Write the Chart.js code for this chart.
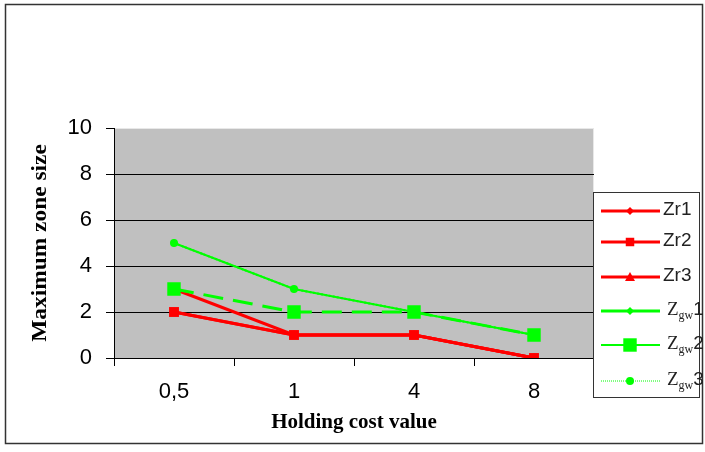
<!DOCTYPE html>
<html><head><meta charset="utf-8">
<script src="https://cdn.jsdelivr.net/npm/chart.js@4"></script>
<style>html,body{margin:0;padding:0;background:#fff}#wrap{width:705px;height:452px;position:relative}</style>
</head><body><div id="wrap"><canvas id="c" width="705" height="452"></canvas></div>
<script>
const categories = ['0,5', '1', '4', '8'];
const zr1 = [2, 1, 1, 0];
const zr2 = [2, 1, 1, 0];
const zr3 = [3, 1, 1, 0];
const zgw1 = [5, 3, 2, 1];
const zgw2 = [3, 2, 2, 1];
const zgw3 = [5, 3, 2, 1];
const yMin = 0, yMax = 10, yStep = 2;
const xTitle = 'Holding cost value';
const yTitle = 'Maximum zone size';

const RED = '#ff0000', GREEN = '#00ff00';
const series = [
  {label: 'Zr1', data: zr1, color: RED, lw: 3, dash: [], ps: 'rectRot', r: 4, lr: 4, sub: null},
  {label: 'Zr2', data: zr2, color: RED, lw: 3, dash: [], ps: 'rect', r: 7, lr: 6, sub: null},
  {label: 'Zr3', data: zr3, color: RED, lw: 3, dash: [], ps: 'triangle', r: 5, lr: 5, sub: null},
  {label: 'Zgw1', data: zgw1, color: GREEN, lw: 2, dash: [], ps: 'rectRot', r: 4, lr: 4, sub: ['Z','gw','1']},
  {label: 'Zgw2', data: zgw2, color: GREEN, lw: 3, dash: [20, 10], ps: 'rect', r: 9.5, lr: 9.5, sub: ['Z','gw','2']},
  {label: 'Zgw3', data: zgw3, color: GREEN, lw: 2, dash: [2, 2], ps: 'circle', r: 4, lr: 4, sub: ['Z','gw','3']}
];

const SANS = '"Liberation Sans", Arial, sans-serif';
const SERIF = '"Liberation Serif", "Times New Roman", serif';

function marker(ctx, ps, r, x, y) {
  ctx.beginPath();
  if (ps === 'circle') { ctx.arc(x, y, r, 0, Math.PI * 2); }
  else if (ps === 'rect') { const s = r * Math.SQRT1_2; ctx.rect(x - s, y - s, 2 * s, 2 * s); }
  else if (ps === 'rectRot') { ctx.moveTo(x, y - r); ctx.lineTo(x + r, y); ctx.lineTo(x, y + r); ctx.lineTo(x - r, y); ctx.closePath(); }
  else if (ps === 'triangle') { ctx.moveTo(x, y - r); ctx.lineTo(x + r, y + r * 0.8); ctx.lineTo(x - r, y + r * 0.8); ctx.closePath(); }
  ctx.fill();
}

const framePlugin = {
  id: 'frame',
  beforeDraw(chart) {
    const ctx = chart.ctx, a = chart.chartArea;
    ctx.save();
    ctx.fillStyle = '#fff'; ctx.fillRect(0, 0, chart.width, chart.height);
    ctx.strokeStyle = '#333'; ctx.lineWidth = 1.5;
    ctx.strokeRect(5.5, 4.5, 697, 439);
    ctx.fillStyle = '#c0c0c0';
    ctx.fillRect(a.left, a.top, a.right - a.left, a.bottom - a.top);
    ctx.strokeStyle = '#e8e8e8'; ctx.lineWidth = 1;
    ctx.strokeRect(a.left + 0.5, a.top + 0.5, a.right - a.left - 1, a.bottom - a.top);
    ctx.restore();
  },
  afterDraw(chart) {
    const ctx = chart.ctx;
    ctx.save();
    // y axis title (stretched along its length like the reference)
    ctx.translate(41, 243);
    ctx.rotate(-Math.PI / 2);
    ctx.scale(1.17, 1);
    ctx.font = 'bold 20px ' + SERIF;
    ctx.fillStyle = '#000';
    ctx.textAlign = 'center'; ctx.textBaseline = 'middle';
    ctx.fillText(yTitle, 0, 0);
    ctx.restore();

    ctx.save();
    ctx.fillStyle = '#fff'; ctx.fillRect(593, 192, 107, 206);
    ctx.strokeStyle = '#333'; ctx.lineWidth = 1; ctx.strokeRect(593.5, 192.5, 106, 205);
    const ys = [211, 242, 277, 311, 345, 381];
    series.forEach((s, i) => {
      const y = ys[i];
      ctx.strokeStyle = s.color;
      ctx.lineWidth = i === 5 ? 1 : (i === 4 ? 2 : 3);
      ctx.setLineDash(i === 5 ? [1, 1] : []);
      ctx.beginPath(); ctx.moveTo(601, y); ctx.lineTo(660, y); ctx.stroke();
      ctx.setLineDash([]);
      ctx.fillStyle = s.color;
      marker(ctx, s.ps, s.lr, 630, y);
      ctx.fillStyle = '#222';
      ctx.textBaseline = 'middle';
      if (!s.sub) {
        ctx.font = '19px ' + SANS;
        ctx.fillText(s.label, 663, y - 1);
      } else {
        let x = 667;
        ctx.font = '19px ' + SERIF;
        ctx.fillText(s.sub[0], x, y - 1); x += ctx.measureText(s.sub[0]).width;
        ctx.font = '12px ' + SERIF;
        ctx.fillText(s.sub[1], x, y + 5); x += ctx.measureText(s.sub[1]).width;
        ctx.font = '19px ' + SANS;
        ctx.fillText(s.sub[2], x, y - 1);
      }
    });
    ctx.restore();
  }
};

new Chart(document.getElementById('c'), {
  type: 'line',
  data: {
    labels: categories,
    datasets: series.map((s, i) => ({
      label: s.label, data: s.data,
      borderColor: s.color, backgroundColor: s.color,
      borderWidth: s.lw, borderDash: s.dash,
      pointStyle: s.ps, pointRadius: s.r, pointBorderWidth: 0,
      pointBackgroundColor: s.color, pointBorderColor: s.color,
      fill: false, tension: 0, order: 5 - i
    }))
  },
  options: {
    responsive: false, animation: false, devicePixelRatio: 1,
    layout: {padding: {left: 0, top: 128, right: 111, bottom: 0}},
    plugins: {legend: {display: false}, tooltip: {enabled: false}},
    scales: {
      x: {
        offset: true,
        afterFit(s) { s.height = 94; },
        grid: {offset: true, drawOnChartArea: false, tickLength: 8, color: '#000', tickColor: '#000'},
        border: {color: '#000', width: 1},
        ticks: {color: '#000', padding: 13, font: {family: SANS, size: 22}},
        title: {display: true, text: xTitle, color: '#000', padding: {top: 0, bottom: 17},
          font: {family: SERIF, size: 21, weight: 'bold'}}
      },
      y: {
        min: yMin, max: yMax,
        afterFit(s) { s.width = 114; },
        grid: {tickLength: 8, color: (c) => c.tick && c.tick.value === yMax ? '#e8e8e8' : '#000', tickColor: '#000'},
        border: {color: '#000', width: 1},
        ticks: {stepSize: yStep, color: '#000', padding: 14, font: {family: SANS, size: 22}},
        title: {display: false, text: yTitle}
      }
    }
  },
  plugins: [framePlugin]
});
</script></body></html>
